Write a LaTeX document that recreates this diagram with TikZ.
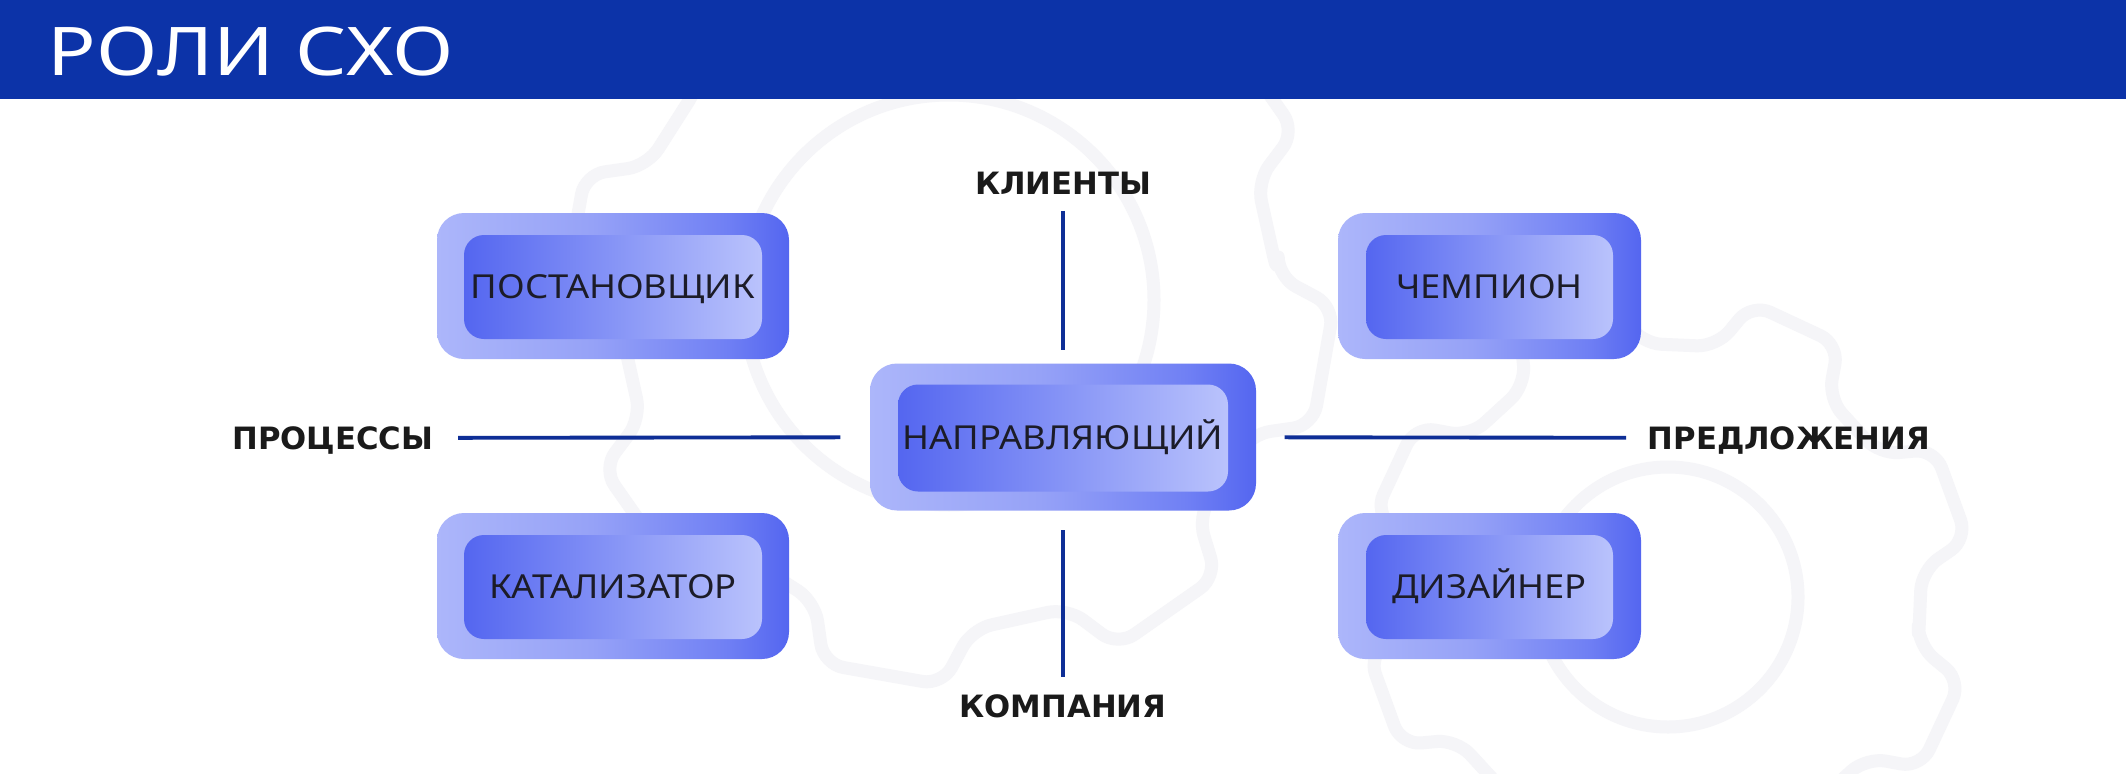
\documentclass[tikz,border=0pt]{standalone}
\usepackage{fontspec}
\setmainfont[FakeStretch=1.1]{Noto Sans}
\newfontfamily\lblfont{DejaVu Sans}
\newfontfamily\ttlfont[FakeStretch=1.2]{Noto Sans}
\definecolor{hdr}{RGB}{12,51,168}
\definecolor{linecol}{RGB}{14,46,150}
\definecolor{gearcol}{RGB}{245,245,248}
\definecolor{boxtext}{RGB}{28,28,40}
\definecolor{lbltext}{RGB}{26,26,26}
\definecolor{oL}{RGB}{172,182,250}
\definecolor{oM}{RGB}{150,162,247}
\definecolor{oN}{RGB}{112,128,244}
\definecolor{oR}{RGB}{84,102,240}
\definecolor{iL}{RGB}{84,102,240}
\definecolor{iM}{RGB}{134,148,246}
\definecolor{iR}{RGB}{186,195,252}
\pgfdeclarehorizontalshading{outershade}{100bp}{color(0bp)=(oL); color(25bp)=(oL); color(47bp)=(oM); color(66bp)=(oN); color(75bp)=(oR); color(100bp)=(oR)}
\pgfdeclarehorizontalshading{innershade}{100bp}{color(0bp)=(iL); color(25bp)=(iL); color(50bp)=(iM); color(75bp)=(iR); color(100bp)=(iR)}
\newcommand{\drawgear}[6]{% cx cy rbody rtip rhole rot
  \draw[gearline] ({#1+#3*cos(#6-14)},{#2+#3*sin(#6-14)})
    \foreach \k in {0,...,7} {
      -- ({#1+#4*cos(#6+45*\k-9)},{#2+#4*sin(#6+45*\k-9)})
      -- ({#1+#4*cos(#6+45*\k+9)},{#2+#4*sin(#6+45*\k+9)})
      -- ({#1+#3*cos(#6+45*\k+14)},{#2+#3*sin(#6+45*\k+14)})
      -- ({#1+#3*cos(#6+45*\k+31)},{#2+#3*sin(#6+45*\k+31)})
    } -- cycle;
  \draw[gearcol, line width=1.3mm] (#1,#2) circle[radius=#5];
}
\begin{document}
\begin{tikzpicture}[x=0.1mm,y=-0.1mm,
  outerbox/.style={shade, shading=outershade, rounded corners=2.7mm, inner sep=0pt, draw=none},
  innerbox/.style={shade, shading=innershade, rounded corners=2mm, inner sep=0pt, text=boxtext,
     font=\fontsize{9.4}{11}\selectfont, text height=6.7pt, text depth=0pt, align=center},
  lbl/.style={font=\lblfont\bfseries\fontsize{8.75}{10}\selectfont, text=lbltext, inner sep=0pt,
     text height=6.4pt, text depth=0pt},
  conn/.style={draw=linecol, line width=1.1pt},
  gearline/.style={draw=gearcol, line width=1.3mm, rounded corners=2mm, line join=round}
]
\useasboundingbox (0,0) rectangle (2126,773);
\fill[white] (0,0) rectangle (2126,773);
% background gears
\drawgear{949}{300}{330}{385}{205}{10}
\drawgear{1668}{597}{255}{305}{130}{25}
% header
\fill[hdr] (0,0) rectangle (2126,99);
\node[anchor=base west, text=white, inner sep=0pt, font=\ttlfont\fontsize{19.1}{22}\selectfont] (title) at (47,75) {РОЛИ СХО};
% boxes
\node[outerbox, minimum width=35.2mm, minimum height=14.6mm] (postO) at (613,286) {};
\node[innerbox, minimum width=29.8mm, minimum height=10.4mm] (post) at (613,287) {ПОСТАНОВЩИК};
\node[outerbox, minimum width=35.2mm, minimum height=14.6mm] (katO) at (613,586) {};
\node[innerbox, minimum width=29.8mm, minimum height=10.4mm] (kat) at (613,587) {КАТАЛИЗАТОР};
\node[outerbox, minimum width=38.6mm, minimum height=14.7mm] (dirO) at (1063,437) {};
\node[innerbox, minimum width=33mm, minimum height=10.7mm] (dir) at (1063,438) {НАПРАВЛЯЮЩИЙ};
\node[outerbox, minimum width=30.3mm, minimum height=14.6mm] (chO) at (1489.5,286) {};
\node[innerbox, minimum width=24.7mm, minimum height=10.4mm] (ch) at (1489.5,287) {ЧЕМПИОН};
\node[outerbox, minimum width=30.3mm, minimum height=14.6mm] (dizO) at (1489.5,586) {};
\node[innerbox, minimum width=24.7mm, minimum height=10.4mm] (diz) at (1489.5,587) {ДИЗАЙНЕР};
% labels
\node[lbl] (kli) at (1063,183) {КЛИЕНТЫ};
\node[lbl] (komp) at (1063,706) {КОМПАНИЯ};
\node[lbl, anchor=east] (proc) at (434,438) {ПРОЦЕССЫ};
\node[lbl, anchor=west] (pred) at (1647,438) {ПРЕДЛОЖЕНИЯ};
% connectors
\draw[conn, shorten <=1.6mm, shorten >=1.3mm] (kli) -- (dirO);
\draw[conn, shorten <=1.9mm, shorten >=1.7mm] (dirO) -- (komp);
\draw[conn, shorten <=2.4mm, shorten >=2.9mm] (proc) -- (dirO);
\draw[conn, shorten <=2.8mm, shorten >=2.1mm] (dirO) -- (pred);
\end{tikzpicture}
\end{document}
